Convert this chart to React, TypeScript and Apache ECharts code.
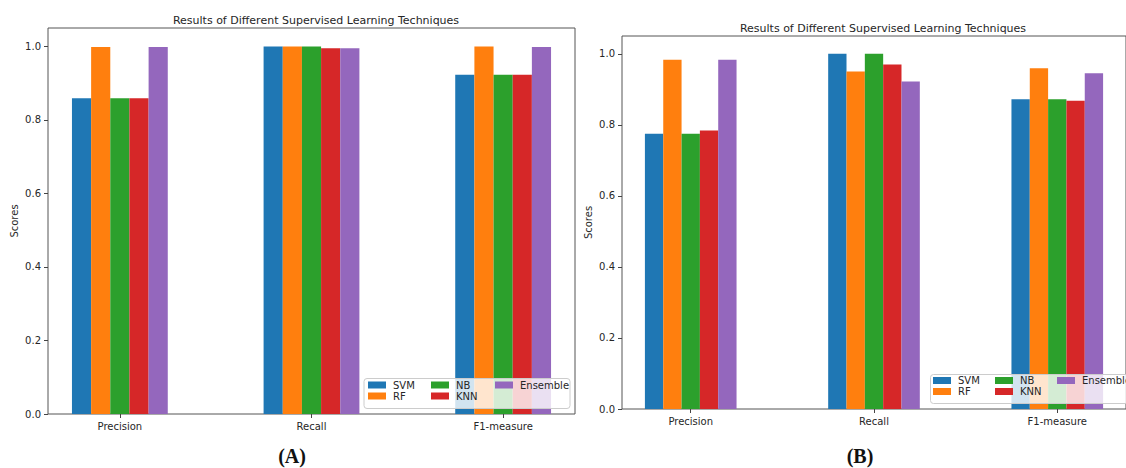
import React, { useEffect, useRef } from "react";
import * as echarts from "echarts";

const categories = ["Precision", "Recall", "F1-measure"];
const models = ["SVM", "RF", "NB", "KNN", "Ensemble"];
const colors = ["#1f77b4", "#ff7f0e", "#2ca02c", "#d62728", "#9467bd"];

// Chart (A)
const svmA = [0.859, 1.0, 0.923];
const rfA = [0.998, 1.0, 1.0];
const nbA = [0.859, 1.0, 0.923];
const knnA = [0.859, 0.995, 0.923];
const ensA = [0.998, 0.995, 0.998];

// Chart (B)
const svmB = [0.775, 1.0, 0.872];
const rfB = [0.983, 0.95, 0.959];
const nbB = [0.775, 1.0, 0.872];
const knnB = [0.784, 0.97, 0.868];
const ensB = [0.983, 0.922, 0.945];

const yTicks = [0, 0.2, 0.4, 0.6, 0.8, 1.0];
const titleText = "Results of Different Supervised Learning Techniques";

const FONT = "DejaVu Sans";
const TXT = "#262626";

export default function App() {
  const ref = useRef<HTMLDivElement>(null);
  useEffect(() => {
    if (!ref.current) return;
    const chart = echarts.init(ref.current, null, { renderer: "svg" });
    const dataA = [svmA, rfA, nbA, knnA, ensA];
    const dataB = [svmB, rfB, nbB, knnB, ensB];

    const mkX = (gi: number) => ({
      type: "value",
      gridIndex: gi,
      min: -0.375,
      max: 2.375,
      splitLine: { show: false },
      axisLine: { show: false, onZero: false },
      axisTick: {
        show: true,
        customValues: [0, 1, 2],
        length: 4,
        lineStyle: { color: "#444" },
      },
      axisLabel: {
        customValues: [0, 1, 2],
        formatter: (v: number) => categories[Math.round(v)],
        fontFamily: FONT,
        fontSize: 10,
        color: TXT,
        margin: 7,
      },
    });
    const mkY = (gi: number) => ({
      type: "value",
      gridIndex: gi,
      min: 0,
      max: 1.05,
      name: "Scores",
      nameLocation: "middle",
      nameGap: 29,
      nameTextStyle: { fontFamily: FONT, fontSize: 10, color: TXT },
      splitLine: { show: false },
      axisLine: { show: false, onZero: false },
      axisTick: {
        show: true,
        customValues: yTicks,
        length: 4,
        lineStyle: { color: "#444" },
      },
      axisLabel: {
        customValues: yTicks,
        formatter: (v: number) => v.toFixed(1),
        fontFamily: FONT,
        fontSize: 10,
        color: TXT,
        margin: 7,
      },
    });

    const series: any[] = [];
    [dataA, dataB].forEach((dd, gi) => {
      dd.forEach((vals, mi) => {
        series.push({
          type: "bar",
          name: models[mi],
          xAxisIndex: gi,
          yAxisIndex: gi,
          barWidth: "10%",
          barGap: "0%",
          itemStyle: { color: colors[mi] },
          data: vals.map((v, i) => [i, v]),
        });
      });
    });

    const legendCols = [["SVM", "RF"], ["NB", "KNN"], ["Ensemble"]];
    const legA = [368, 431, 495];
    const legB = [933, 995, 1057];
    const legends: any[] = [];
    [
      { xs: legA, top: 380 },
      { xs: legB, top: 375.5 },
    ].forEach((L) => {
      legendCols.forEach((col, ci) => {
        legends.push({
          data: col,
          orient: "vertical",
          left: L.xs[ci],
          top: L.top,
          padding: 0,
          itemGap: 1,
          itemWidth: 18,
          itemHeight: 7,
          icon: "rect",
          z: 20,
          selectedMode: false,
          textStyle: { fontFamily: FONT, fontSize: 10, color: TXT, padding: [0, 0, 0, 2] },
        });
      });
    });

    chart.setOption({
      animation: false,
      backgroundColor: "#ffffff",
      title: [
        {
          text: titleText,
          left: 311,
          top: 10,
          textAlign: "center",
          textStyle: { fontFamily: FONT, fontSize: 11, fontWeight: "normal", color: TXT },
        },
        {
          text: titleText,
          left: 878,
          top: 18,
          textAlign: "center",
          textStyle: { fontFamily: FONT, fontSize: 11, fontWeight: "normal", color: TXT },
        },
      ],
      grid: [
        { left: 48, right: 551, top: 28, bottom: 54, show: true, borderColor: "#555", borderWidth: 1, backgroundColor: "transparent" },
        { left: 622, right: -6, top: 36, bottom: 59, show: true, borderColor: "#555", borderWidth: 1, backgroundColor: "transparent" },
      ],
      xAxis: [mkX(0), mkX(1)],
      yAxis: [mkY(0), mkY(1)],
      legend: legends,
      graphic: [
        {
          type: "rect",
          z: 15,
          shape: { x: 364, y: 378.5, width: 206, height: 30, r: 3 },
          style: { fill: "rgba(255,255,255,0.8)", stroke: "#cccccc", lineWidth: 1 },
        },
        {
          type: "rect",
          z: 15,
          shape: { x: 930.5, y: 374.5, width: 210, height: 29, r: 3 },
          style: { fill: "rgba(255,255,255,0.8)", stroke: "#cccccc", lineWidth: 1 },
        },
        {
          type: "text",
          x: 292,
          y: 456,
          style: {
            text: "(A)",
            font: "bold 20px 'Liberation Serif'",
            fill: "#111",
            textAlign: "center",
            textVerticalAlign: "middle",
          },
        },
        {
          type: "text",
          x: 860,
          y: 456,
          style: {
            text: "(B)",
            font: "bold 20px 'Liberation Serif'",
            fill: "#111",
            textAlign: "center",
            textVerticalAlign: "middle",
          },
        },
      ],
      series,
    });
    return () => chart.dispose();
  }, []);

  return (
    <div
      ref={ref}
      style={{ position: "fixed", left: 0, top: 0, width: 1126, height: 468 }}
    />
  );
}
